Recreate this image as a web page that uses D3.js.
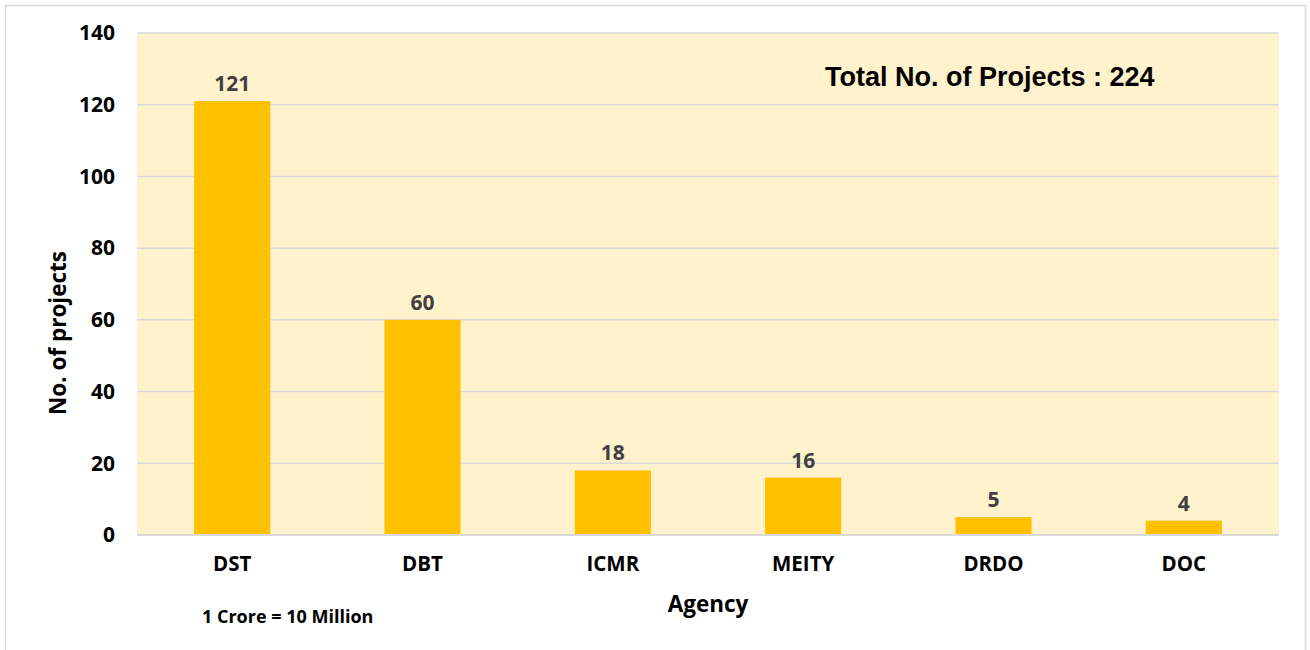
<!DOCTYPE html>
<html><head><meta charset="utf-8">
<script src="https://cdn.jsdelivr.net/npm/d3@7"></script>
<style>body{margin:0;background:#fff;}svg{display:block;}</style>
</head><body>
<script>
const categories = ["DST","DBT","ICMR","MEITY","DRDO","DOC"];
const values = [121,60,18,16,5,4];
const yTicks = [0,20,40,60,80,100,120,140];
const totalLabel = "Total No. of Projects : 224";
const note = "1 Crore = 10 Million";

const W = 1310, H = 650;
const m = {left:137, right:1279, top:33, bottom:535};
const font = "'Open Sans', Lato, sans-serif";

const svg = d3.select("body").append("svg").attr("width",W).attr("height",H);
svg.append("rect").attr("x",5.5).attr("y",5.5).attr("width",1300).attr("height",660)
  .attr("fill","#fff").attr("stroke","#d9d9d9").attr("stroke-width",1.5);

const x = d3.scaleBand().domain(categories).range([m.left,m.right]).paddingInner(0.6).paddingOuter(0.3);
const y = d3.scaleLinear().domain([0,140]).range([m.bottom,m.top]);

svg.append("rect").attr("x",m.left).attr("y",m.top).attr("width",m.right-m.left).attr("height",m.bottom-m.top).attr("fill","#FFF2CC");

svg.append("g").selectAll("line").data(yTicks.filter(d=>d>0)).join("line")
  .attr("x1",m.left).attr("x2",m.right).attr("y1",d=>y(d)).attr("y2",d=>y(d))
  .attr("stroke","#d9d9d9").attr("stroke-width",1.5);

svg.append("g").selectAll("rect").data(values).join("rect")
  .attr("x",(d,i)=>x(categories[i])).attr("width",x.bandwidth())
  .attr("y",d=>y(d)).attr("height",d=>y(0)-y(d)).attr("fill","#FFC000");

svg.append("line").attr("x1",m.left).attr("x2",m.right).attr("y1",y(0)).attr("y2",y(0))
  .attr("stroke","#d9d9d9").attr("stroke-width",2);

svg.append("g").selectAll("text").data(values).join("text")
  .attr("x",(d,i)=>x(categories[i])+x.bandwidth()/2).attr("y",(d)=>y(d)-10)
  .attr("text-anchor","middle").attr("font-family",font).attr("font-weight","bold")
  .attr("font-size",21).attr("fill","#404040").text(d=>d);

// y axis
const ya = svg.append("g").attr("transform",`translate(${m.left},0)`)
  .call(d3.axisLeft(y).tickValues(yTicks).tickSize(0).tickPadding(22));
ya.select(".domain").remove();
ya.selectAll("text").attr("font-family",font).attr("font-weight","bold").attr("font-size",21).attr("fill","#000");

// x axis
const xa = svg.append("g").attr("transform",`translate(0,${m.bottom})`)
  .call(d3.axisBottom(x).tickSize(0).tickPadding(21));
xa.select(".domain").remove();
xa.selectAll("text").attr("font-family",font).attr("font-weight","bold").attr("font-size",20.5).attr("fill","#000");

svg.append("text").attr("x",708).attr("y",612).attr("text-anchor","middle")
  .attr("font-family",font).attr("font-weight","bold").attr("font-size",22.5).attr("fill","#000").text("Agency");
svg.append("text").attr("transform","translate(66,333) rotate(-90)").attr("text-anchor","middle")
  .attr("font-family",font).attr("font-weight","bold").attr("font-size",22.5).attr("fill","#000").text("No. of projects");
svg.append("text").attr("x",202).attr("y",623)
  .attr("font-family",font).attr("font-weight","bold").attr("font-size",18).attr("fill","#000").text(note);
svg.append("text").attr("x",825).attr("y",86)
  .attr("font-family","'Liberation Sans', Arial, sans-serif").attr("font-weight","bold").attr("font-size",27).attr("fill","#000").text(totalLabel);
</script>
</body></html>
